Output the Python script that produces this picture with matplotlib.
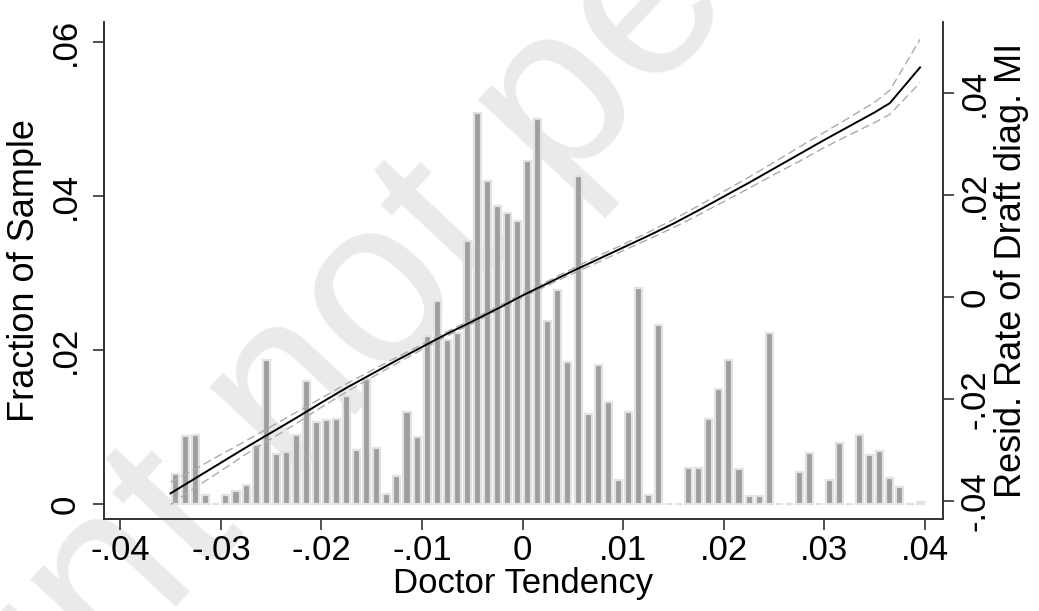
import numpy as np
import matplotlib
matplotlib.use('Agg')
import matplotlib.pyplot as plt

plt.rcParams['font.family'] = ['Liberation Sans', 'DejaVu Sans']

# histogram of doctor tendency, bins of width .001 starting at -.035
bin_start = -0.035
bin_width = 0.001
fractions = [0.0039, 0.0088, 0.0089, 0.0012, 0.0000, 0.0012, 0.0017, 0.0025, 0.0076, 0.0187,
             0.0065, 0.0068, 0.0089, 0.0160, 0.0106, 0.0109, 0.0110, 0.0140, 0.0070, 0.0162,
             0.0073, 0.0013, 0.0036, 0.0120, 0.0087, 0.0218, 0.0263, 0.0213, 0.0222, 0.0342,
             0.0508, 0.0420, 0.0387, 0.0378, 0.0367, 0.0446, 0.0500, 0.0238, 0.0278, 0.0184,
             0.0426, 0.0117, 0.0180, 0.0132, 0.0031, 0.0120, 0.0280, 0.0012, 0.0232, 0.0000,
             0.0000, 0.0047, 0.0047, 0.0110, 0.0149, 0.0187, 0.0045, 0.0010, 0.0010, 0.0222,
             0.0000, 0.0000, 0.0042, 0.0066, 0.0000, 0.0031, 0.0079, 0.0000, 0.0089, 0.0064,
             0.0069, 0.0034, 0.0022, 0.0000, 0.0002]
centers = bin_start + bin_width * (np.arange(len(fractions)) + 0.5)

# local linear fit of residualised draft MI rate (right axis) with 95% CI
line_x = [-0.035, -0.0325, -0.030, -0.0275, -0.025, -0.0225, -0.020, -0.0175, -0.015, -0.0125,
          -0.010, -0.0075, -0.005, -0.0025, 0.000, 0.0025, 0.005, 0.0075, 0.010, 0.0125,
          0.015, 0.0175, 0.020, 0.0225, 0.025, 0.0275, 0.030, 0.0325, 0.035, 0.0365, 0.0395]
line_y = [-0.0385, -0.0355, -0.0325, -0.0295, -0.0266, -0.0237, -0.0207, -0.0178, -0.0151, -0.0124,
          -0.0098, -0.0072, -0.0048, -0.0023, 0.0003, 0.0027, 0.0051, 0.0074, 0.0097, 0.0120,
          0.0144, 0.0170, 0.0197, 0.0224, 0.0252, 0.0280, 0.0308, 0.0335, 0.0362, 0.0380, 0.0450]
ci_hi = [-0.0363, -0.0337, -0.0309, -0.0282, -0.0254, -0.0226, -0.0198, -0.0170, -0.0144, -0.0118,
         -0.0093, -0.0068, -0.0044, -0.0019, 0.0007, 0.0031, 0.0056, 0.0080, 0.0103, 0.0127,
         0.0152, 0.0179, 0.0207, 0.0235, 0.0264, 0.0294, 0.0323, 0.0352, 0.0382, 0.0405, 0.0505]
ci_lo = [-0.0407, -0.0373, -0.0341, -0.0308, -0.0278, -0.0248, -0.0216, -0.0186, -0.0158, -0.0130,
         -0.0103, -0.0076, -0.0052, -0.0027, -0.0001, 0.0023, 0.0046, 0.0068, 0.0091, 0.0113,
         0.0136, 0.0161, 0.0187, 0.0213, 0.0240, 0.0266, 0.0293, 0.0318, 0.0342, 0.0358, 0.0420]

xticks = [-0.04, -0.03, -0.02, -0.01, 0, 0.01, 0.02, 0.03, 0.04]
xticklabels = ['-.04', '-.03', '-.02', '-.01', '0', '.01', '.02', '.03', '.04']
lticks = [0, 0.02, 0.04, 0.06]
lticklabels = ['0', '.02', '.04', '.06']
rticks = [-0.04, -0.02, 0, 0.02, 0.04]
rticklabels = ['-.04', '-.02', '0', '.02', '.04']

fig = plt.figure(figsize=(10.39, 6.11), dpi=100)

# watermark behind the plot
fig.text(0.56, 0.865, 'Preprint not peer reviewed', rotation=47, fontsize=170,
         color='#eaeaea', ha='center', va='center', rotation_mode='anchor', zorder=-1)

ax = fig.add_axes([0.1001, 0.1506, 0.8075, 0.8134])
ax.set_facecolor('none')
ax.bar(centers, fractions, width=0.0007, color='#9e9e9e', edgecolor='#e2e2e2', linewidth=1.6)
ax.set_xlim(-0.04162, 0.04178)
ax.set_ylim(-0.00195, 0.0626)

ax2 = ax.twinx()
ax2.plot(line_x, ci_hi, '--', color='#ababab', lw=1.0, dashes=(6, 3))
ax2.plot(line_x, ci_lo, '--', color='#ababab', lw=1.0, dashes=(6, 3))
ax2.plot(line_x, line_y, color='black', lw=1.4)
ax2.set_ylim(-0.04353, 0.0539)

spine_col = '#333333'
for a in (ax, ax2):
    a.spines['top'].set_visible(False)
    for s in ('left', 'right', 'bottom'):
        a.spines[s].set_color(spine_col)
        a.spines[s].set_linewidth(1.2)
    a.tick_params(direction='out', length=8, width=1.2, color=spine_col, labelsize=25)

ax.set_xticks(xticks)
ax.set_xticklabels(xticklabels)
ax.set_yticks(lticks)
ax.set_yticklabels(lticklabels, rotation=90, va='center')
ax2.set_yticks(rticks)
ax2.set_yticklabels(rticklabels, rotation=90, va='center')
ax.tick_params(axis='x', pad=2.5)
ax.tick_params(axis='y', pad=8)
ax2.tick_params(axis='y', pad=3)

ax.set_xlabel('Doctor Tendency', fontsize=25, labelpad=0)
ax.set_ylabel('Fraction of Sample', fontsize=26, labelpad=5)
ax2.set_ylabel('Resid. Rate of Draft diag. MI', fontsize=26, rotation=90, labelpad=2)

fig.savefig('out.png', dpi=100)
